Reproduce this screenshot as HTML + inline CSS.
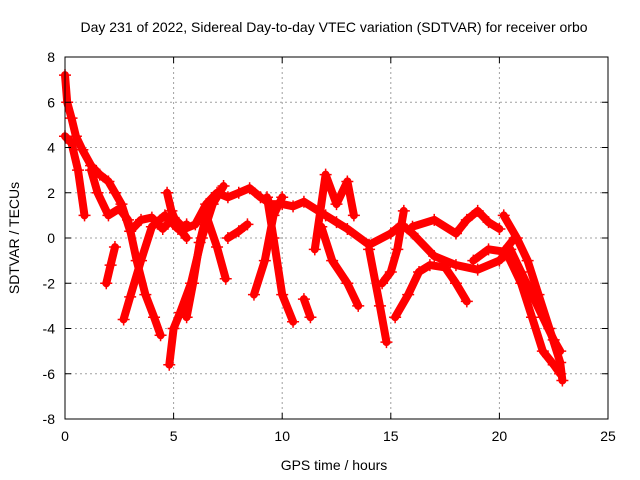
<!DOCTYPE html>
<html><head><meta charset="utf-8"><style>
html,body{margin:0;padding:0;background:#fff}
svg{display:block;font-family:"Liberation Sans",sans-serif}
</style></head><body>
<svg id="chart" width="640" height="480" viewBox="0 0 640 480">
<rect width="640" height="480" fill="#fff"/>
<g id="grid"></g><g id="series"></g><g id="axes"></g>
<text x="334" y="32" font-size="14" text-anchor="middle">Day 231 of 2022, Sidereal Day-to-day VTEC variation (SDTVAR) for receiver orbo</text>
<text x="334" y="470" font-size="14" text-anchor="middle">GPS time / hours</text>
<text x="0" y="0" font-size="14" text-anchor="middle" transform="translate(19,238) rotate(-90)">SDTVAR / TECUs</text>
</svg>
<script>
const xTicks=[0,5,10,15,20,25];
const yTicks=[-8,-6,-4,-2,0,2,4,6,8];
const track1=[[0,7.2],[0.1,6.0],[0.3,5.3],[0.5,4.5],[0.8,3.9],[1.2,3.2],[1.6,2.8],[2.0,2.5],[2.3,2.0],[2.6,1.5],[3.0,0.3],[3.5,0.8],[4.0,0.9],[4.5,0.4],[5.0,0.9],[5.5,0.4],[6.0,0.6],[6.5,1.5],[7.0,2.0],[7.5,1.8],[8.0,2.0],[8.5,2.2],[9.0,1.8],[9.5,1.5],[10.0,1.5],[10.5,1.4],[11.0,1.6],[12.0,1.0],[12.5,0.7],[13.0,0.4],[14.0,-0.3],[15.0,0.2],[15.5,0.6],[16.0,0.2],[17.0,-0.8],[18.0,-1.2],[19.0,-1.4],[20.0,-1.0],[20.5,-0.5],[21.0,-1.5],[21.5,-2.5],[22.0,-3.5],[22.5,-4.5],[22.8,-5.0]];
const track2=[[0.0,4.5],[0.3,4.2],[0.6,3.0],[0.9,1.0]];
const track3=[[1.2,3.0],[1.5,2.0],[2.0,1.0],[2.5,1.3],[2.9,0.8],[3.3,-1.0],[3.7,-2.5],[4.1,-3.5],[4.4,-4.3]];
const track4=[[1.9,-2.0],[2.1,-1.2],[2.3,-0.4]];
const track5=[[2.7,-3.6],[3.0,-2.6],[3.5,-1.0],[4.0,0.5],[4.6,1.0],[5.2,0.4],[5.6,0.6]];
const track6=[[4.7,2.0],[4.9,1.2],[5.2,0.5],[5.6,0.0]];
const track7=[[4.8,-5.6],[5.0,-4.0],[5.3,-3.3],[5.8,-2.0],[6.3,0.0],[6.8,1.5],[7.3,2.3]];
const track8=[[5.6,-3.5],[5.9,-2.0],[6.2,-0.2],[6.5,1.0],[7.0,-0.4],[7.4,-1.8]];
const track9=[[7.5,0.0],[8.0,0.3],[8.4,0.6]];
const track10=[[8.7,-2.5],[9.2,-1.0],[9.6,1.0],[10.0,1.8]];
const track11=[[9.3,1.8],[9.6,0.0],[10.0,-2.5],[10.5,-3.7]];
const track12=[[11.0,-2.7],[11.3,-3.5]];
const track13=[[11.5,-0.5],[12.0,2.8],[12.5,1.5],[13.0,2.5],[13.3,1.0]];
const track14=[[11.8,0.5],[12.3,-1.0],[13.0,-2.0],[13.5,-3.0]];
const track15=[[14.0,-0.5],[14.5,-3.0],[14.8,-4.6]];
const track16=[[14.6,-2.0],[15.0,-1.5],[15.3,-0.5],[15.6,1.2]];
const track17=[[15.2,-3.5],[15.8,-2.5],[16.3,-1.5],[16.8,-1.2],[17.5,-1.3],[18.0,-2.0],[18.5,-2.8]];
const track18=[[16.0,0.5],[17.0,0.8],[18.0,0.2],[18.5,0.8],[19.0,1.2],[19.5,0.7],[20.0,0.4]];
const track19=[[20.2,1.0],[20.8,0.0],[21.3,-1.0],[21.8,-2.5],[22.3,-4.0],[22.8,-5.5],[22.9,-6.3]];
const track20=[[18.8,-1.0],[19.5,-0.5],[20.2,-0.6],[20.7,0.0]];
const track21=[[20.4,-0.8],[21.0,-2.0],[21.5,-3.5],[22.0,-5.0],[22.5,-5.6],[22.8,-6.0]];
const tracks=[track1,track2,track3,track4,track5,track6,track7,track8,track9,track10,track11,track12,track13,track14,track15,track16,track17,track18,track19,track20,track21];

const X0=65,X1=608,Y0=419,Y1=57;
const sx=v=>X0+(v-0)/(25-0)*(X1-X0);
const sy=v=>Y0-(v+8)/16*(Y0-Y1);
const NS='http://www.w3.org/2000/svg';
function mk(tag,attrs,parent){const e=document.createElementNS(NS,tag);for(const k in attrs)e.setAttribute(k,attrs[k]);parent.appendChild(e);return e;}
const grid=document.getElementById('grid'),axes=document.getElementById('axes'),series=document.getElementById('series');

xTicks.forEach(t=>{
  const x=sx(t);
  if(t>0&&t<25){const g=mk('line',{x1:x,x2:x,y1:Y1,y2:Y0,stroke:'#a0a0a0','stroke-dasharray':'2,3'},grid);
  
  }
  mk('line',{x1:x,x2:x,y1:Y0,y2:Y0-6,stroke:'#000'},axes);
  mk('line',{x1:x,x2:x,y1:Y1,y2:Y1+6,stroke:'#000'},axes);
  const l=mk('text',{x:x,y:Y0+22,'font-size':14,'text-anchor':'middle'},axes);l.textContent=t;
  
  
});
yTicks.forEach(t=>{
  const y=sy(t);
  if(t>-8&&t<8){const g=mk('line',{x1:X0,x2:X1,y1:y,y2:y,stroke:'#a0a0a0','stroke-dasharray':'2,3'},grid);
  
  }
  mk('line',{x1:X0,x2:X0+6,y1:y,y2:y,stroke:'#000'},axes);
  mk('line',{x1:X1,x2:X1-6,y1:y,y2:y,stroke:'#000'},axes);
  const l=mk('text',{x:X0-10,y:y+5,'font-size':14,'text-anchor':'end'},axes);l.textContent=t;
  
  
});
const fr=mk('rect',{x:X0,y:Y1,width:X1-X0,height:Y0-Y1,fill:'none',stroke:'#000'},axes);



tracks.forEach((tr,i)=>{
  const pts=tr.map(p=>sx(p[0]).toFixed(1)+','+sy(p[1]).toFixed(1)).join(' ');
  const pl=mk('polyline',{points:pts,fill:'none',stroke:'#ff0000','stroke-width':8,'stroke-linejoin':'round','stroke-linecap':'round'},series);
  
  
  tr.forEach(p=>{
    const x=sx(p[0]),y=sy(p[1]);
    const m=mk('path',{d:`M${x-6},${y}H${x+6}M${x},${y-6}V${y+6}`,stroke:'#ff0000','stroke-width':1.5},series);
    
    
  });
});
</script>
</body></html>
